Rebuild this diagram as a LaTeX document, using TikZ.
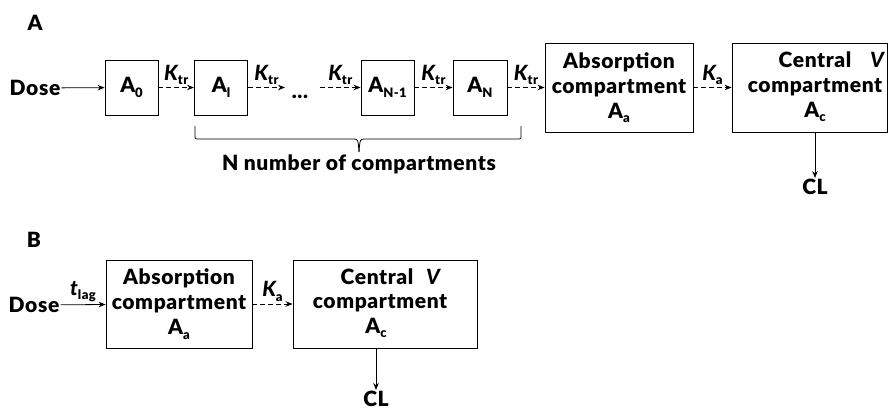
\documentclass[tikz,border=0pt]{standalone}
\usepackage{fontspec}
\setmainfont{Lato}[BoldFont={Lato Black}, BoldItalicFont={Lato Black Italic}, LetterSpace=3]
\usetikzlibrary{arrows.meta,calc}
\newcommand\sbs[1]{\raisebox{-0.22em}{\fontsize{13}{13}\selectfont #1}}
\newcommand\Cmp[1]{A\sbs{#1}}
\newcommand\Kk[1]{{\itshape K}\sbs{#1}}
\tikzset{
  every node/.style={font=\fontsize{21}{25}\selectfont\bfseries, inner sep=1pt},
  cbox/.style={draw, line width=0.9pt, minimum height=55pt, inner sep=0pt},
  bigbox/.style={draw, line width=0.9pt, minimum height=89pt, inner sep=0pt},
  solidarr/.style={-{Stealth[length=7pt,width=5.5pt]}, line width=0.8pt},
  dasharr/.style={-{Stealth[length=7pt,width=5.5pt]}, line width=0.8pt, dash pattern=on 5pt off 3pt},
  lbl/.style={above, inner sep=2pt},
}
\begin{document}
\begin{tikzpicture}[x=1pt,y=-1pt]
\useasboundingbox (0,0) rectangle (889,410);
% ---------- Panel A
\node (labA) at (35,23) {A};
\node (doseA) at (35,88) {Dose};
\node[cbox, minimum width=53pt] (A0) at (131.5,87.5) {\Cmp{0}};
\node[cbox, minimum width=53pt] (A1) at (221,87.5) {\Cmp{l}};
\coordinate (e1) at (285,87.5);
\node (dots) at (300,97) {...};
\coordinate (s2) at (320,87.5);
\node[cbox, minimum width=53pt] (AN1) at (387.5,87.5) {\Cmp{N-1}};
\node[cbox, minimum width=54pt] (AN) at (480,87.5) {\Cmp{N}};
\node[bigbox, minimum width=148pt, align=center] (absA) at (619,87.5) {Absorption\\compartment\\\Cmp{a}};
\node[bigbox, minimum width=155pt] (cenA) at (809.5,87.5) {};
\node (cenAt) at (815,60) {Central};
\node (cenAv) at (877,60) {\itshape V};
\node (cenAc) at (815,87) {compartment};
\node (cenAa) at (815,112) {\Cmp{c}};
\draw[solidarr] (doseA) -- (A0);
\draw[dasharr] (A0) -- node[lbl] (k1) {\Kk{tr}} (A1);
\draw[dasharr] (A1) -- node[lbl] (k2) {\Kk{tr}} (e1);
\draw[dasharr] (s2) -- node[lbl] (k3) {\Kk{tr}} (AN1);
\draw[dasharr] (AN1) -- node[lbl] (k4) {\Kk{tr}} (AN);
\draw[dasharr] (AN) -- node[lbl] (k5) {\Kk{tr}} (absA);
\draw[dasharr] (absA) -- node[lbl] (ka1) {\Kk{a}} (cenA);
\node (clA) at (815,187) {CL};
\draw[solidarr] (cenA.south -| clA) -- (clA.north);
% brace
\coordinate (bl) at (195,126);
\coordinate (br) at (521,126);
\coordinate (bt) at (359,152);
\draw[line width=0.8pt] (bl) -- (195,135) .. controls (195,139) .. (199,139) -- (353,139) .. controls (358,139) .. (bt);
\draw[line width=0.8pt] (br) -- (521,135) .. controls (521,139) .. (517,139) -- (365,139) .. controls (360,139) .. (bt);
\node (nnum) at (359,164) {N number of compartments};
% ---------- Panel B
\node (labB) at (34,240) {B};
\node (doseB) at (34,305) {Dose};
\node[bigbox, minimum width=146pt, minimum height=88pt, align=center] (absB) at (179,304) {Absorption\\compartment\\\Cmp{a}};
\node[bigbox, minimum width=184pt, minimum height=88pt] (cenB) at (385,304) {};
\node (cenBt) at (377,277) {Central};
\node (cenBv) at (433,277) {\itshape V};
\node (cenBc) at (380,303) {compartment};
\node (cenBa) at (376,328) {\Cmp{c}};
\draw[solidarr] (doseB) -- node[lbl] (tl) {{\itshape t}\sbs{lag}} (absB);
\draw[dasharr] (absB) -- node[lbl] (ka2) {\Kk{a}} (cenB);
\node (clB) at (376,399) {CL};
\draw[solidarr] (cenB.south -| clB) -- (clB.north);
\end{tikzpicture}
\end{document}
